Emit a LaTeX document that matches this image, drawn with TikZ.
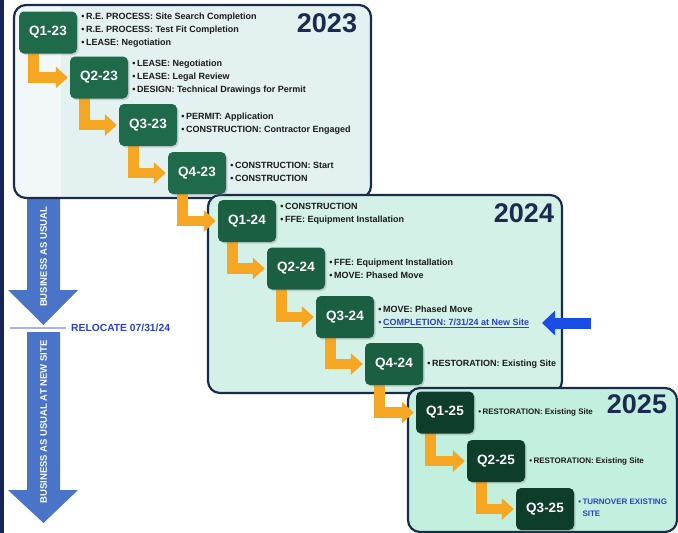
\documentclass[tikz,border=0pt]{standalone}
\usepackage{fontspec}
\setmainfont{Liberation Sans}
\usetikzlibrary{arrows.meta,shadows}
\definecolor{navy}{HTML}{1B2B4B}
\definecolor{pa}{HTML}{E3F1F0}
\definecolor{pastrip}{HTML}{F2F8F8}
\definecolor{pb}{HTML}{D3F1E7}
\definecolor{pc}{HTML}{C3EFDF}
\definecolor{boxa}{HTML}{1F6A4A}
\definecolor{boxb}{HTML}{1B5F42}
\definecolor{boxc}{HTML}{0E3D2B}
\definecolor{orng}{HTML}{F5A623}
\definecolor{barrow}{HTML}{4A74C8}
\definecolor{txt}{HTML}{1A1A1A}
\definecolor{bluetxt}{HTML}{2A42D0}
\definecolor{bigblue}{HTML}{1A4CE6}
\definecolor{relocline}{HTML}{A9B2EA}
\definecolor{leftbar}{HTML}{16245A}
\definecolor{yearcol}{HTML}{1B2A4E}
\begin{document}
\begin{tikzpicture}[x=1pt,y=-1pt,
  panel/.style={draw=navy, line width=2.2pt, rounded corners=12pt},
  qbox/.style={rounded corners=5pt, minimum width=58pt, minimum height=42pt,
    text=white, font=\bfseries\fontsize{13.5}{13.5}\selectfont, inner sep=0pt,
    drop shadow={shadow xshift=1.5pt,shadow yshift=-1.5pt,opacity=0.3}},
  qa/.style={qbox, fill=boxa},
  qb/.style={qbox, fill=boxb},
  qc/.style={qbox, fill=boxc},
  itemtxt/.style={anchor=west, align=left, inner sep=0pt, text=txt,
    font=\bfseries\fontsize{9}{13}\selectfont},
  itemtxtc/.style={itemtxt, font=\bfseries\fontsize{8}{12}\selectfont},
  yeartxt/.style={text=yearcol, font=\bfseries\fontsize{27}{27}\selectfont, inner sep=0pt},
  conn/.style={draw=orng, line width=10.5pt, line join=miter,
    -{Triangle[length=12pt,width=21pt]}},
  bizarrow/.style={fill=barrow},
  biztxt/.style={rotate=90, text=white, font=\bfseries\fontsize{9.5}{9.5}\selectfont, inner sep=0pt}
]
\useasboundingbox (0,0) rectangle (678,533);
\fill[white] (0,0) rectangle (678,533);
\fill[leftbar] (0,0) rectangle (4,533);

% left blue arrows
\fill[bizarrow] (27,190) -- (60,190) -- (60,290) -- (78,290) -- (43.5,325) -- (8,290) -- (27,290) -- cycle;
\fill[bizarrow] (27,332) -- (60,332) -- (60,490) -- (78,490) -- (43.5,523) -- (8,490) -- (27,490) -- cycle;
\node[biztxt] (bau) at (43.5,257) {BUSINESS AS USUAL};
\node[biztxt] (baunew) at (43.5,422) {BUSINESS AS USUAL AT NEW SITE};
\coordinate (rl1) at (10,328);
\coordinate (rl2) at (66,328);
\draw[relocline, line width=1.6pt] (rl1) -- (rl2);
\node[anchor=west, inner sep=0pt, text=bluetxt, font=\bfseries\fontsize{10.3}{10.3}\selectfont] (reloc) at (71,328) {RELOCATE 07/31/24};

% panels
\begin{scope}
\clip[rounded corners=12pt] (14,5) rectangle (371,198);
\fill[pa] (14,5) rectangle (371,198);
\fill[pastrip] (14,5) rectangle (61,198);
\end{scope}
\draw[panel] (14,5) rectangle (371,198);
\draw[panel, fill=pb] (208,195) rectangle (562,393);
\draw[panel, fill=pc] (408,388) rectangle (677,532);

% years
\node[yeartxt] (y23) at (327,23) {2023};
\node[yeartxt] (y24) at (524,213) {2024};
\node[yeartxt] (y25) at (637,404) {2025};

% quarter box centres
\coordinate (c1) at (48,32.5);
\coordinate (c2) at (99,77.5);
\coordinate (c3) at (148,125);
\coordinate (c4) at (197,173);
\coordinate (c5) at (247,221);
\coordinate (c6) at (296,268.5);
\coordinate (c7) at (345,317);
\coordinate (c8) at (394,364);
\coordinate (c9) at (445,412.5);
\coordinate (c10) at (496,461);
\coordinate (c11) at (545,509);

% connectors drawn first (under boxes) using invisible helper nodes
\foreach \i in {1,...,11}{
  \node[minimum width=58pt, minimum height=42pt, inner sep=0pt] (h\i) at (c\i) {};
}
\foreach \i/\j in {1/2,2/3,3/4,4/5,5/6,6/7,7/8,8/9,9/10,10/11}{
  \draw[conn] ([xshift=14.5pt]h\i.west) |- ([xshift=-2pt]h\j.west);
}

\node[qa] (q1) at (c1) {Q1-23};
\node[qa] (q2) at (c2) {Q2-23};
\node[qa] (q3) at (c3) {Q3-23};
\node[qa] (q4) at (c4) {Q4-23};
\node[qb] (q5) at (c5) {Q1-24};
\node[qb] (q6) at (c6) {Q2-24};
\node[qb] (q7) at (c7) {Q3-24};
\node[qb] (q8) at (c8) {Q4-24};
\node[qc] (q9) at (c9) {Q1-25};
\node[qc] (q10) at (c10) {Q2-25};
\node[qc] (q11) at (c11) {Q3-25};

% item texts
\node[itemtxt] (t1) at ([xshift=4pt,yshift=2pt]q1.east) {•\,R.E. PROCESS: Site Search Completion\\•\,R.E. PROCESS: Test Fit Completion\\•\,LEASE: Negotiation};
\node[itemtxt] (t2) at ([xshift=4pt]q2.east) {•\,LEASE: Negotiation\\•\,LEASE: Legal Review\\•\,DESIGN: Technical Drawings for Permit};
\node[itemtxt] (t3) at ([xshift=4pt,yshift=1pt]q3.east) {•\,PERMIT: Application\\•\,CONSTRUCTION: Contractor Engaged};
\node[itemtxt] (t4) at ([xshift=4pt,yshift=1pt]q4.east) {•\,CONSTRUCTION: Start\\•\,CONSTRUCTION};
\node[itemtxt] (t5) at ([xshift=4pt,yshift=7pt]q5.east) {•\,CONSTRUCTION\\•\,FFE: Equipment Installation};
\node[itemtxt] (t6) at ([xshift=4pt]q6.east) {•\,FFE: Equipment Installation\\•\,MOVE: Phased Move};
\node[itemtxt] (t7) at ([xshift=4pt]q7.east) {•\,MOVE: Phased Move\\\textcolor{bluetxt}{•\,\underline{COMPLETION: 7/31/24 at New Site}}};
\node[itemtxt] (t8) at ([xshift=4pt]q8.east) {•\,RESTORATION: Existing Site};
\node[itemtxtc] (t9) at ([xshift=4pt]q9.east) {•\,RESTORATION: Existing Site};
\node[itemtxtc] (t10) at ([xshift=4pt]q10.east) {•\,RESTORATION: Existing Site};
\node[itemtxtc, text=bluetxt] (t11) at ([xshift=4pt,yshift=1pt]q11.east) {•\,TURNOVER EXISTING\\\phantom{•\,}SITE};

% big blue pointer arrow
\coordinate (ba1) at (591,323);
\coordinate (ba2) at (542,323);
\draw[bigblue, line width=11pt, -{Triangle[length=13pt,width=24pt]}] (ba1) -- (ba2);
\end{tikzpicture}
\end{document}
